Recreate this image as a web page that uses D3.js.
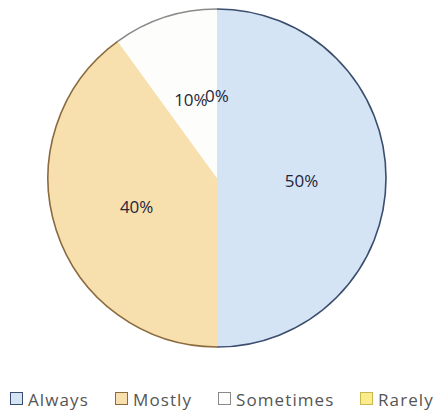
<!DOCTYPE html>
<html><head><meta charset="utf-8">
<script src="https://cdn.jsdelivr.net/npm/d3@7"></script>
<style>body{margin:0;background:#fff}svg{display:block}</style>
</head><body>
<svg id="chart" width="436" height="414"></svg>
<script>
const categories = ["Always", "Mostly", "Sometimes", "Rarely"];
const values = [50, 40, 10, 0];
const fills = ["#d4e4f4", "#f8e0ae", "#fdfdfb", "#fbec8c"];
const edges = ["#3b4d6e", "#8a6a3e", "#8a8a8a", "#c9b850"];
const labels = ["50%", "40%", "10%", "0%"];

const svg = d3.select("#chart");
const cx = 217, cy = 178, r = 169;
const data = categories.map((c, i) => ({cat: c, value: values[i], i}));
const pie = d3.pie().value(d => d.value).sort(null);
const arcs = pie(data);
const arc = d3.arc().innerRadius(0).outerRadius(r);
const labelArc = d3.arc().innerRadius(r * 0.5).outerRadius(r * 0.5);

const g = svg.append("g").attr("transform", `translate(${cx},${cy})`);
g.selectAll("path.slice").data(arcs).join("path")
  .attr("class", "slice")
  .attr("d", arc)
  .attr("fill", d => fills[d.data.i]);
const outer = d3.arc().innerRadius(r).outerRadius(r);
g.selectAll("path.edge").data(arcs.filter(d => d.value > 0)).join("path")
  .attr("class", "edge")
  .attr("d", outer)
  .attr("fill", "none")
  .attr("stroke", d => edges[d.data.i])
  .attr("stroke-width", 1.6);

g.selectAll("text.lbl").data(arcs).join("text")
  .attr("class", "lbl")
  .attr("transform", d => {
    const [x, y] = labelArc.centroid(d);
    return `translate(${x},${y + 2})`;
  })
  .attr("text-anchor", "middle")
  .attr("dominant-baseline", "central")
  .attr("font-family", "Open Sans, sans-serif")
  .attr("font-size", 17)
  .attr("fill", "#25253a")
  .text(d => labels[d.data.i]);

// legend
const legX = [10, 115, 218, 360];
const legY = 399;
const lg = svg.append("g");
categories.forEach((c, i) => {
  lg.append("rect")
    .attr("x", legX[i] + 0.5).attr("y", legY - 6.5)
    .attr("width", 12).attr("height", 12)
    .attr("fill", fills[i])
    .attr("stroke", edges[i]).attr("stroke-width", 1);
  lg.append("text")
    .attr("x", legX[i] + 18).attr("y", legY)
    .attr("dominant-baseline", "central")
    .attr("font-family", "Open Sans, sans-serif")
    .attr("font-size", 17)
    .attr("letter-spacing", 1.1)
    .attr("fill", "#555")
    .text(c);
});
</script>
</body></html>
